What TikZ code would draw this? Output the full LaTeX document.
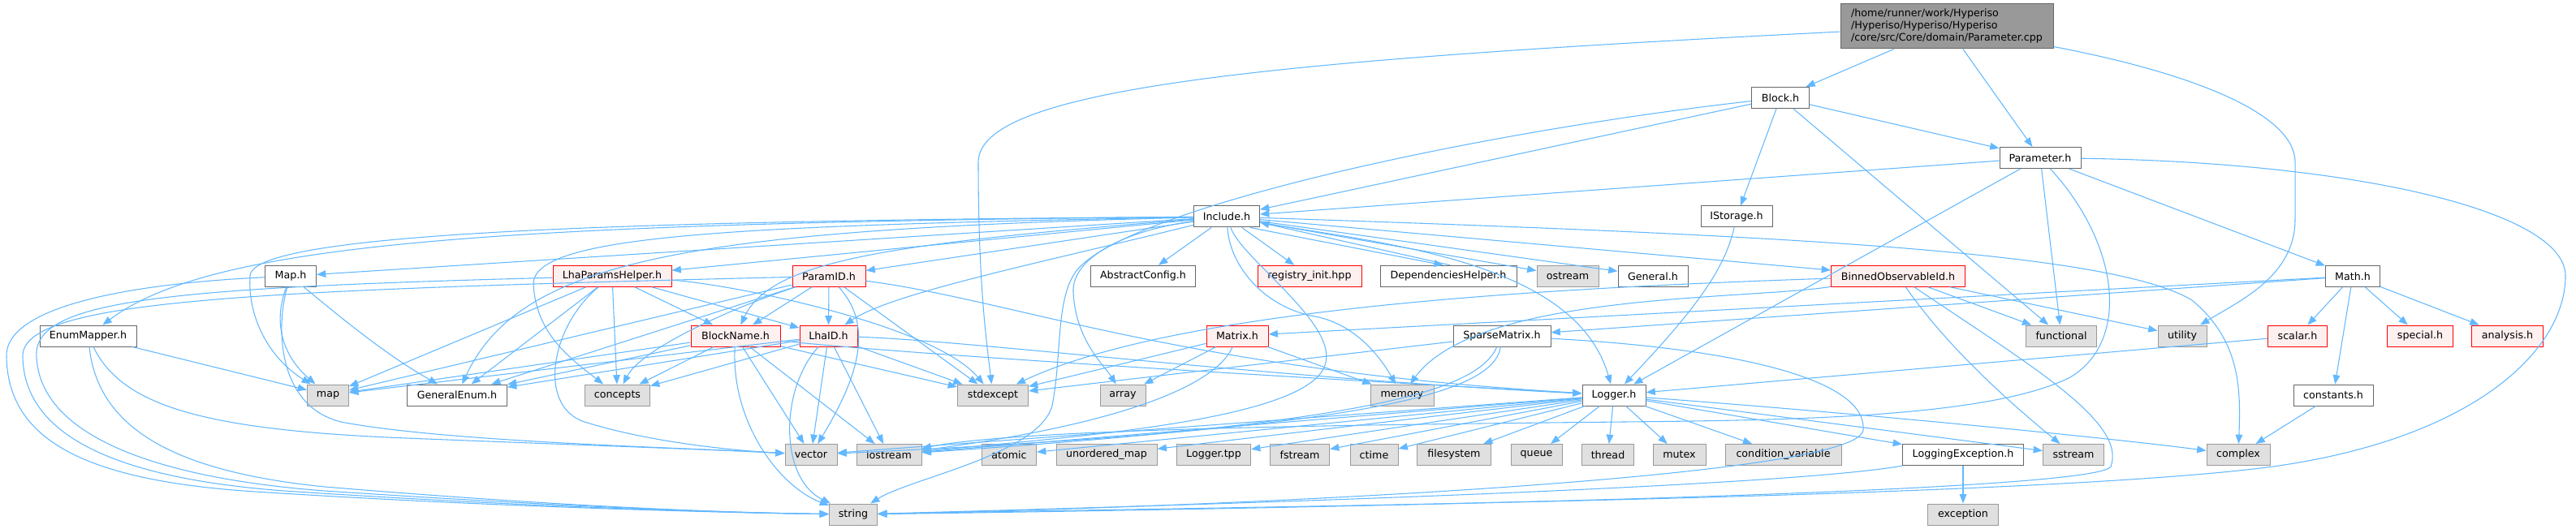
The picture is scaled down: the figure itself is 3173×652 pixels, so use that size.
\documentclass[tikz,border=0pt]{standalone}
\usepackage{fontspec}
\setmainfont{DejaVu Sans}
\usetikzlibrary{arrows.meta}
\definecolor{cedge}{HTML}{63B8FF}
\definecolor{cbd}{HTML}{666666}
\definecolor{csysb}{HTML}{999999}
\definecolor{csysf}{HTML}{E0E0E0}
\definecolor{credf}{HTML}{FFF0F0}
\definecolor{credb}{HTML}{FF0000}
\definecolor{croot}{HTML}{999999}
\begin{document}
\begin{tikzpicture}[x=0.75pt,y=-0.75pt,
  font=\fontsize{9.5pt}{11.25pt}\selectfont,
  nn/.style={draw=cbd,fill=white,line width=0.75pt,minimum height=19.5pt,inner sep=0pt},
  ns/.style={nn,draw=csysb,fill=csysf},
  nr/.style={nn,draw=credb,fill=credf},
  bw/.style={minimum width=#1*0.75pt},
  e/.style={draw=cedge,line width=0.8pt,-{Triangle[length=8.5pt,width=6.5pt]}}]
\useasboundingbox (0,0) rectangle (3173,652);
% ---- nodes
\node[nn,fill=croot,draw=cbd,bw=262,minimum height=41.25pt,align=left] (R) at (2398,32.5)
  {/home/runner/work/Hyperiso\\/Hyperiso/Hyperiso/Hyperiso\\/core/src/Core/domain/Parameter.cpp};
\node[nn,bw=71] (B) at (2193,120.5) {Block.h};
\node[nn,bw=100] (P) at (2513,194.5) {Parameter.h};
\node[nn,bw=81] (I) at (1511,267) {Include.h};
\node[nn,bw=88] (IS) at (2139,267) {IStorage.h};
% row 3
\node[nn,bw=63] (Map) at (358,340.3) {Map.h};
\node[nr,bw=146] (LPH) at (754,340.3) {LhaParamsHelper.h};
\node[nr,bw=90] (PID) at (1021,340.3) {ParamID.h};
\node[nn,bw=129] (AC) at (1408,340.3) {AbstractConfig.h};
\node[nr,bw=128] (RI) at (1613,340.3) {registry\_init.hpp};
\node[nn,bw=168] (DH) at (1784,340.3) {DependenciesHelper.h};
\node[ns,bw=76] (ost) at (1931,340.3) {ostream};
\node[nn,bw=86] (Gen) at (2036,340.3) {General.h};
\node[nr,bw=165] (BOI) at (2338,340.3) {BinnedObservableId.h};
\node[nn,bw=67] (Math) at (2898,340.3) {Math.h};
% row 4
\node[nn,bw=119] (EM) at (108.5,414) {EnumMapper.h};
\node[nr,bw=110] (BN) at (906,414) {BlockName.h};
\node[nr,bw=71] (LID) at (1020.5,414) {LhaID.h};
\node[nr,bw=76] (Mx) at (1524,414) {Matrix.h};
\node[nn,bw=120] (SM) at (1850,414) {SparseMatrix.h};
\node[ns,bw=87] (fun) at (2539,414) {functional};
\node[ns,bw=60] (util) at (2688,414) {utility};
\node[nr,bw=73] (scal) at (2830,414) {scalar.h};
\node[nr,bw=81] (spec) at (2981,414) {special.h};
\node[nr,bw=88] (ana) at (3088.5,414) {analysis.h};
% row 5
\node[ns,bw=51] (map) at (404,487) {map};
\node[nn,bw=123] (GE) at (563,487) {GeneralEnum.h};
\node[ns,bw=80] (conc) at (760.5,487) {concepts};
\node[ns,bw=87] (stdx) at (1223,487) {stdexcept};
\node[ns,bw=56] (arr) at (1383,487) {array};
\node[ns,bw=78] (mem) at (1727,487) {memory};
\node[nn,bw=78] (Log) at (1988,487) {Logger.h};
\node[nn,bw=98] (const) at (2874,487) {constants.h};
% row 6
\node[ns,bw=64] (vec) at (999,560.5) {vector};
\node[ns,bw=80] (ios) at (1095,560.5) {iostream};
\node[ns,bw=67] (atom) at (1243,560.5) {atomic};
\node[ns,bw=124] (um) at (1363,560.5) {unordered\_map};
\node[ns,bw=91] (ltpp) at (1495,560.5) {Logger.tpp};
\node[ns,bw=73] (fst) at (1601,560.5) {fstream};
\node[ns,bw=59] (ctime) at (1692.5,560.5) {ctime};
\node[ns,bw=91] (fs) at (1791,560.5) {filesystem};
\node[ns,bw=63] (queue) at (1892.5,560.5) {queue};
\node[ns,bw=64] (thread) at (1980.5,560.5) {thread};
\node[ns,bw=65] (mutex) at (2068.5,560.5) {mutex};
\node[ns,bw=143] (cv) at (2196.5,560.5) {condition\_variable};
\node[nn,bw=149] (LE) at (2418,560.5) {LoggingException.h};
\node[ns,bw=75] (sst) at (2554,560.5) {sstream};
\node[ns,bw=78] (cplx) at (2757,560.5) {complex};
% row 7
\node[ns,bw=59] (str) at (1051,634) {string};
\node[ns,bw=87] (exc) at (2418,634) {exception};
% ---- edges: root
\draw[e] (R) -- (B);
\draw[e] (R) -- (P);
\draw[e] (R) .. controls (1550,75) and (1205,110) .. (1205,200) .. controls (1205,350) and (1215,420) .. (stdx);
\draw[e] (R) .. controls (2700,90) and (2827,140) .. (2827,200) -- (2827,270) .. controls (2827,340) and (2760,370) .. (util);
% Block.h
\draw[e] (B) -- (P);
\draw[e] (B) -- (IS);
\draw[e] (B) -- (I);
\draw[e] (B) -- (fun);
\draw[e] (B) .. controls (1800,165) and (1380,260) .. (1325,335) .. controls (1300,370) and (1308,440) .. (1296,500) .. controls (1280,560) and (1120,590) .. (str);
% Parameter.h
\draw[e] (P) -- (I);
\draw[e] (P) -- (fun);
\draw[e] (P) -- (Math);
\draw[e] (P) -- (Log);
\draw[e] (P) .. controls (2610,300) and (2625,420) .. (2550,465) .. controls (2450,515) and (2200,518) .. (2000,520) .. controls (1600,524) and (1250,530) .. (ios);
\draw[e] (P) .. controls (2900,200) and (3160,260) .. (3160,340) .. controls (3160,430) and (3050,540) .. (2800,575) .. controls (2500,615) and (1500,625) .. (str);
% IStorage.h
\draw[e] (IS) .. controls (2125,330) and (2090,380) .. (Log);
% Include.h
\draw[e] (I) -- (Map);
\draw[e] (I) .. controls (600,275) and (260,300) .. (EM);
\draw[e] (I) -- (LPH);
\draw[e] (I) -- (PID);
\draw[e] (I) -- (AC);
\draw[e] (I) -- (RI);
\draw[e] (I.-25) -- (DH.115);
\draw[e] (DH.80) -- (I.-10);
\draw[e] (I) -- (ost);
\draw[e] (I) -- (Gen);
\draw[e] (I) -- (BOI);
\draw[e] (I) .. controls (1100,300) and (950,320) .. (BN);
\draw[e] (I) .. controls (1300,320) and (1100,360) .. (LID);
\draw[e] (I) .. controls (850,283) and (640,320) .. (GE);
\draw[e] (I) .. controls (800,272) and (310,285) .. (308,340) .. controls (305,390) and (330,440) .. (map);
\draw[e] (I) .. controls (900,278) and (657,290) .. (657,350) .. controls (660,410) and (700,440) .. (conc);
\draw[e] (I) .. controls (1380,285) and (1320,320) .. (1322,360) .. controls (1325,420) and (1360,450) .. (arr);
\draw[e] (I) .. controls (1515,330) and (1560,380) .. (1620,390) .. controls (1670,400) and (1700,440) .. (mem);
\draw[e] (I) .. controls (1530,320) and (1650,400) .. (1632,450) .. controls (1610,520) and (1300,540) .. (ios);
\draw[e] (I) .. controls (1700,300) and (1940,320) .. (Log);
\draw[e] (I) .. controls (2200,290) and (2600,310) .. (2700,370) .. controls (2760,420) and (2760,480) .. (cplx);
% Map.h
\draw[e] (Map) .. controls (335,400) and (350,440) .. (map);
\draw[e] (Map) .. controls (430,400) and (480,440) .. (GE);
\draw[e] (Map) .. controls (340,400) and (340,500) .. (420,520) .. controls (550,545) and (850,552) .. (vec);
\draw[e] (Map) .. controls (150,350) and (5,380) .. (8,440) .. controls (10,540) and (100,590) .. (300,605) .. controls (600,625) and (900,632) .. (str);
% EnumMapper.h
\draw[e] (EM) -- (map);
\draw[e] (EM) .. controls (150,500) and (250,530) .. (500,540) .. controls (700,548) and (900,555) .. (vec);
\draw[e] (EM) .. controls (120,520) and (200,580) .. (400,600) .. controls (700,625) and (900,632) .. (str);
% LhaParamsHelper.h
\draw[e] (LPH) -- (BN);
\draw[e] (LPH) -- (LID);
\draw[e] (LPH) -- (conc);
\draw[e] (LPH) -- (GE);
\draw[e] (LPH) -- (map);
\draw[e] (LPH) .. controls (900,350) and (1150,400) .. (stdx);
\draw[e] (LPH) .. controls (680,400) and (660,500) .. (720,520) .. controls (800,545) and (900,555) .. (vec);
\draw[e] (LPH) .. controls (200,355) and (40,370) .. (45,440) .. controls (50,540) and (200,590) .. (400,605) .. controls (700,625) and (900,632) .. (str);
% ParamID.h
\draw[e] (PID) -- (BN);
\draw[e] (PID) -- (LID);
\draw[e] (PID) .. controls (900,380) and (790,430) .. (conc);
\draw[e] (PID) -- (GE);
\draw[e] (PID) -- (map);
\draw[e] (PID) -- (stdx);
\draw[e] (PID) .. controls (1250,370) and (1450,455) .. (Log);
\draw[e] (PID) .. controls (1075,400) and (1060,460) .. (vec);
\draw[e] (PID) .. controls (300,358) and (25,370) .. (28,440) .. controls (30,540) and (150,590) .. (350,605) .. controls (650,625) and (900,632) .. (str);
% BlockName.h
\draw[e] (BN) -- (map);
\draw[e] (BN) -- (GE);
\draw[e] (BN) -- (conc);
\draw[e] (BN) -- (vec);
\draw[e] (BN) -- (ios);
\draw[e] (BN) .. controls (900,520) and (960,600) .. (str);
\draw[e] (BN) -- (stdx);
\draw[e] (BN) .. controls (1100,435) and (1500,460) .. (Log);
% LhaID.h
\draw[e] (LID) -- (map);
\draw[e] (LID) -- (GE);
\draw[e] (LID) -- (conc);
\draw[e] (LID) -- (vec);
\draw[e] (LID) -- (ios);
\draw[e] (LID) .. controls (960,480) and (960,590) .. (str);
\draw[e] (LID) -- (stdx);
\draw[e] (LID) .. controls (1200,420) and (1550,465) .. (Log);
% BinnedObservableId.h
\draw[e] (BOI) .. controls (2400,430) and (2480,500) .. (sst);
\draw[e] (BOI) .. controls (2500,450) and (2620,520) .. (2600,575) .. controls (2580,610) and (1500,628) .. (str);
\draw[e] (BOI) -- (fun);
\draw[e] (BOI) -- (util);
\draw[e] (BOI) .. controls (1900,355) and (1450,380) .. (stdx);
\draw[e] (BOI) .. controls (2150,370) and (1820,360) .. (mem);
% Matrix.h
\draw[e] (Mx) -- (arr);
\draw[e] (Mx) -- (stdx);
\draw[e] (Mx) -- (mem);
\draw[e] (Mx) .. controls (1500,470) and (1400,520) .. (ios);
% SparseMatrix.h
\draw[e] (SM) -- (stdx);
\draw[e] (SM) .. controls (1820,480) and (1700,520) .. (ios);
\draw[e] (SM) .. controls (1840,490) and (1650,530) .. (vec);
\draw[e] (SM) .. controls (2150,430) and (2300,470) .. (2295,530) .. controls (2290,590) and (1500,625) .. (str);
% Math.h
\draw[e] (Math) -- (Mx);
\draw[e] (Math) -- (SM);
\draw[e] (Math) -- (scal);
\draw[e] (Math) -- (spec);
\draw[e] (Math) -- (ana);
\draw[e] (Math) -- (const);
\draw[e] (scal) -- (Log);
\draw[e] (const) -- (cplx);
% Logger.h
\draw[e] (Log) -- (vec);
\draw[e] (Log) -- (ios);
\draw[e] (Log) -- (atom);
\draw[e] (Log) -- (um);
\draw[e] (Log) -- (ltpp);
\draw[e] (Log) -- (fst);
\draw[e] (Log) -- (ctime);
\draw[e] (Log) -- (fs);
\draw[e] (Log) -- (queue);
\draw[e] (Log) -- (thread);
\draw[e] (Log) -- (mutex);
\draw[e] (Log) -- (cv);
\draw[e] (Log) -- (LE);
\draw[e] (Log) -- (sst);
\draw[e] (Log) .. controls (2300,510) and (2600,540) .. (cplx);
% LoggingException.h
\draw[e] (LE) -- (exc);
\draw[e] (LE) .. controls (2200,600) and (1500,622) .. (str);
\end{tikzpicture}
\end{document}
